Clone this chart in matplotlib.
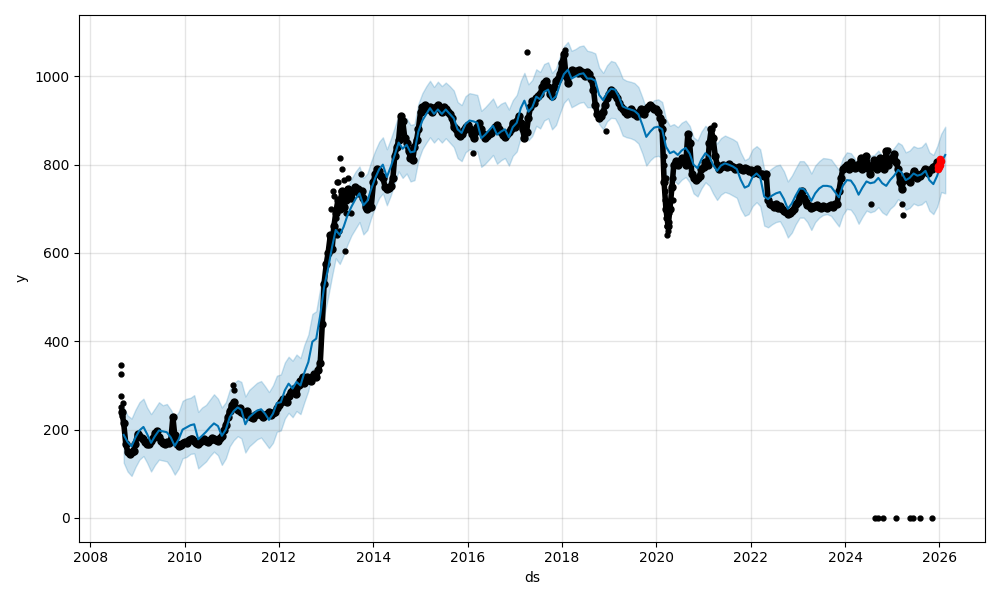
import matplotlib
matplotlib.use("Agg")
import matplotlib.pyplot as plt
import pandas as pd

# observed values, 1st and 15th of each month, Sep 2008 .. Dec 2025
obs = [
    240, 215, 168, 150, 145, 150, 152, 168,  # 2008 Sep-Dec
    190, 185, 182, 178, 172, 168, 168, 174, 180, 192, 196, 184, 175, 170, 168, 172, 170, 176, 228, 188, 168, 162, 165, 170,
    172, 170, 176, 178, 178, 174, 170, 168, 172, 176, 178, 174, 172, 177, 180, 178, 176, 174, 180, 186, 198, 210, 228, 242,
    255, 262, 250, 245, 248, 240, 235, 238, 242, 230, 228, 226, 232, 236, 238, 232, 228, 232, 236, 240, 232, 238, 240, 248,
    255, 262, 270, 265, 262, 275, 285, 290, 295, 280, 300, 310, 320, 305, 318, 312, 310, 320, 325, 318, 335, 350, 440, 530,
    575, 600, 640, 610, 660, 690, 720, 700, 740, 705, 720, 745, 735, 725, 740, 750, 745, 735, 740, 725, 705, 700, 710, 705,
    760, 780, 790, 785, 775, 770, 750, 745, 748, 752, 770, 820, 840, 855, 910, 900, 860, 850, 830, 815, 810, 840, 855, 880,
    920, 930, 935, 925, 925, 930, 920, 928, 930, 935, 925, 920, 930, 925, 920, 915, 905, 885, 880, 870, 865, 870, 878, 885,
    890, 880, 870, 860, 875, 885, 895, 880, 870, 860, 865, 870, 872, 878, 885, 890, 880, 875, 868, 862, 870, 875, 880, 895,
    885, 900, 910, 895, 880, 860, 875, 905, 930, 945, 940, 950, 955, 960, 975, 985, 990, 975, 960, 955, 975, 990, 995, 1005,
    1030, 1050, 1000, 985, 1005, 1015, 1010, 1012, 1008, 1015, 1010, 1005, 1000, 1010, 1005, 995, 970, 935, 915, 905, 910, 920, 935, 950,
    960, 970, 965, 958, 950, 940, 930, 925, 920, 915, 918, 925, 920, 915, 910, 918, 925, 920, 915, 925, 930, 935, 930, 925,
    925, 920, 905, 880, 760, 700, 660, 700, 750, 800, 808, 800, 805, 815, 810, 800, 870, 850, 780, 770, 765, 770, 775, 790,
    795, 805, 800, 850, 880, 860, 820, 800, 790, 795, 800, 798, 795, 802, 798, 795, 790, 792, 795, 790, 788, 792, 790, 785,
    788, 782, 785, 790, 782, 778, 780, 775, 778, 720, 712, 708, 705, 710, 702, 706, 700, 695, 692, 688, 690, 694, 700, 710,
    715, 730, 740, 725, 715, 708, 706, 702, 704, 706, 708, 704, 702, 706, 705, 702, 706, 708, 704, 710, 712, 740, 770, 790,
    795, 800, 790, 805, 798, 792, 800, 795, 815, 790, 805, 820, 790, 780, 800, 810, 790, 805, 815, 800, 790, 830, 800, 810,
    815, 825, 805, 790, 760, 745, 765, 775, 770, 760, 775, 785, 780, 770, 775, 780, 785, 790, 782, 788, 790, 795, 798, 805,
]

# scattered points away from the main band
extra_dates = ['2008-08-22', '2008-08-24', '2008-08-27', '2008-08-29', '2008-09-05', '2008-09-08',
               '2011-01-10', '2011-01-14', '2013-03-25', '2013-04-20', '2013-05-05', '2013-05-25',
               '2013-09-25', '2016-02-10', '2017-04-01', '2018-01-20', '2018-12-10', '2021-03-20',
               '2024-07-20', '2024-11-25', '2025-03-20', '2025-03-24',
               '2020-02-18', '2020-02-22', '2020-02-26', '2020-03-04', '2020-03-08', '2020-03-11',
               '2020-03-15', '2020-03-19', '2020-03-23', '2020-03-27', '2020-03-30', '2020-04-05',
               '2020-04-08', '2020-04-20', '2020-04-24', '2020-05-05', '2020-05-10',
               '2013-02-10', '2013-02-20', '2013-03-05', '2013-03-15', '2013-04-05', '2013-04-10',
               '2013-05-15', '2013-06-05', '2013-06-20', '2013-07-10', '2013-04-28', '2013-03-28']
extra_vals = [347, 325, 277, 252, 230, 260,
              300, 290, 760, 815, 790, 605,
              780, 826, 1055, 1060, 876, 890,
              712, 833, 710, 686,
              900, 860, 820, 800, 740, 720,
              770, 680, 660, 640, 650, 690,
              670, 720, 745, 770, 720,
              700, 740, 730, 680, 760, 650,
              765, 690, 770, 690, 740, 640]

# zero readings in 2024-2025
zero_dates = ['2024-08-18', '2024-09-12', '2024-10-19', '2025-01-30',
              '2025-05-15', '2025-06-13', '2025-07-31', '2025-11-07']
zero_vals = [0, 0, 0, 0, 0, 0, 0, 0]

# latest points, drawn in red
red_dates = ['2025-12-20', '2025-12-24', '2025-12-29', '2026-01-02', '2026-01-06', '2026-01-09', '2026-01-13']
red_vals = [790, 798, 795, 805, 800, 812, 808]

# monthly forecast, Sep 2008 .. Feb 2026
yhat = [
    188, 172, 162, 182,
    198, 206, 190, 170, 185, 198, 196, 194, 182, 163, 178, 200,
    205, 210, 212, 178, 186, 195, 205, 214, 208, 186, 200, 228,
    242, 250, 245, 212, 228, 236, 243, 246, 236, 222, 236, 260,
    262, 289, 304, 293, 308, 300, 329, 353, 399, 406, 459, 523,
    565, 614, 652, 641, 659, 686, 705, 722, 735, 708, 718, 745,
    770, 790, 800, 772, 795, 822, 850, 836, 845, 828, 830, 875,
    900, 915, 928, 915, 925, 915, 925, 915, 905, 880, 872, 892,
    900, 898, 895, 860, 868, 878, 888, 868, 875, 880, 862, 885,
    895, 928, 945, 920, 930, 954, 948, 965, 970, 946, 955, 982,
    1005, 1015, 995, 1000, 1005, 1007, 995, 995, 990, 958, 946, 962,
    972, 970, 955, 932, 928, 925, 922, 914, 890, 863, 875, 884,
    886, 880, 841, 826, 830, 822, 832, 838, 825, 800, 792, 812,
    826, 818, 800, 786, 798, 803, 800, 796, 790, 766, 748, 752,
    772, 780, 772, 728, 722, 730, 735, 738, 722, 700, 712, 730,
    746, 745, 735, 718, 735, 746, 752, 752, 750, 738, 726, 752,
    765, 764, 752, 732, 748, 762, 758, 760, 770, 758, 752, 765,
    775, 788, 782, 765, 770, 780, 775, 778, 786, 765, 756, 775,
    805, 822,
]

yhat_upper = [
    250, 232, 225, 245,
    262, 270, 250, 235, 248, 262, 255, 258, 245, 228, 240, 265,
    270, 272, 278, 240, 250, 256, 268, 280, 270, 250, 262, 290,
    305, 312, 308, 275, 290, 298, 306, 310, 298, 285, 300, 322,
    325, 352, 365, 356, 370, 362, 392, 415, 462, 468, 520, 585,
    628, 676, 715, 702, 722, 748, 768, 784, 796, 770, 780, 808,
    832, 852, 862, 835, 858, 885, 912, 898, 905, 890, 892, 938,
    962, 978, 990, 976, 988, 978, 986, 978, 968, 942, 935, 955,
    962, 960, 958, 922, 930, 940, 950, 930, 938, 942, 925, 946,
    958, 990, 1008, 982, 992, 1016, 1010, 1028, 1032, 1008, 1018, 1045,
    1068, 1078, 1058, 1062, 1068, 1070, 1058, 1056, 1052, 1020, 1008, 1025,
    1035, 1032, 1018, 995, 990, 988, 985, 976, 952, 926, 938, 946,
    948, 942, 904, 888, 892, 885, 895, 900, 888, 862, 855, 875,
    888, 880, 862, 848, 860, 866, 862, 858, 852, 828, 810, 815,
    835, 842, 835, 790, 785, 792, 798, 800, 785, 762, 775, 792,
    808, 808, 798, 780, 798, 808, 815, 814, 812, 800, 788, 815,
    828, 826, 815, 795, 810, 825, 820, 822, 832, 820, 815, 828,
    838, 850, 845, 828, 832, 842, 838, 840, 850, 828, 822, 842,
    870, 886,
]

yhat_lower = [
    125, 105, 95, 115,
    132, 140, 125, 105, 120, 132, 130, 128, 115, 98, 112, 135,
    138, 145, 146, 112, 120, 128, 140, 150, 142, 120, 135, 162,
    176, 185, 180, 148, 162, 170, 178, 182, 170, 158, 170, 195,
    198, 225, 238, 228, 242, 235, 262, 288, 335, 340, 395, 458,
    500, 548, 588, 575, 595, 620, 640, 655, 670, 642, 652, 680,
    705, 725, 735, 708, 730, 758, 785, 770, 780, 762, 765, 810,
    835, 850, 862, 850, 860, 850, 860, 850, 840, 815, 808, 828,
    835, 832, 830, 795, 802, 812, 822, 802, 810, 815, 798, 820,
    830, 862, 880, 855, 865, 888, 882, 900, 905, 880, 890, 916,
    940, 950, 930, 935, 940, 942, 930, 930, 925, 892, 880, 898,
    906, 905, 890, 866, 862, 860, 856, 848, 825, 798, 810, 818,
    820, 815, 776, 760, 765, 756, 766, 772, 760, 735, 728, 746,
    760, 752, 735, 720, 732, 738, 735, 730, 725, 700, 684, 688,
    706, 715, 706, 662, 658, 665, 670, 672, 656, 635, 646, 665,
    680, 680, 670, 652, 670, 680, 686, 688, 684, 672, 660, 686,
    700, 698, 686, 666, 682, 696, 692, 695, 704, 692, 686, 700,
    708, 722, 715, 698, 702, 712, 708, 710, 718, 696, 688, 705,
    738, 735,
]

obs_ds = pd.date_range('2008-09-01', periods=len(obs), freq='SMS')
fc_ds = pd.date_range('2008-09-01', periods=len(yhat), freq='MS') + pd.Timedelta(days=14)

fig, ax = plt.subplots(figsize=(10, 6), dpi=100)

# dense daily history: thick black trace of dots
ax.plot(obs_ds, obs, '-', c='k', lw=4, solid_capstyle='round')
ax.plot(obs_ds, obs, 'k.', markersize=10)
ax.plot(pd.to_datetime(extra_dates), extra_vals, 'k.', markersize=7)
ax.plot(pd.to_datetime(zero_dates), zero_vals, 'k.', markersize=7)
ax.plot(fc_ds, yhat, ls='-', c='#0072B2', lw=1.5)
ax.fill_between(fc_ds, yhat_lower, yhat_upper, color='#0072B2', alpha=0.2)
ax.plot(pd.to_datetime(red_dates), red_vals, 'r.', markersize=9)

ax.grid(True, which='major', c='gray', ls='-', lw=1, alpha=0.2)
ax.set_xlim(pd.Timestamp('2007-10-08'), pd.Timestamp('2026-12-20'))
ax.set_ylim(-54, 1139)
ax.set_xlabel('ds')
ax.set_ylabel('y')

fig.tight_layout()
fig.savefig('out.png')
